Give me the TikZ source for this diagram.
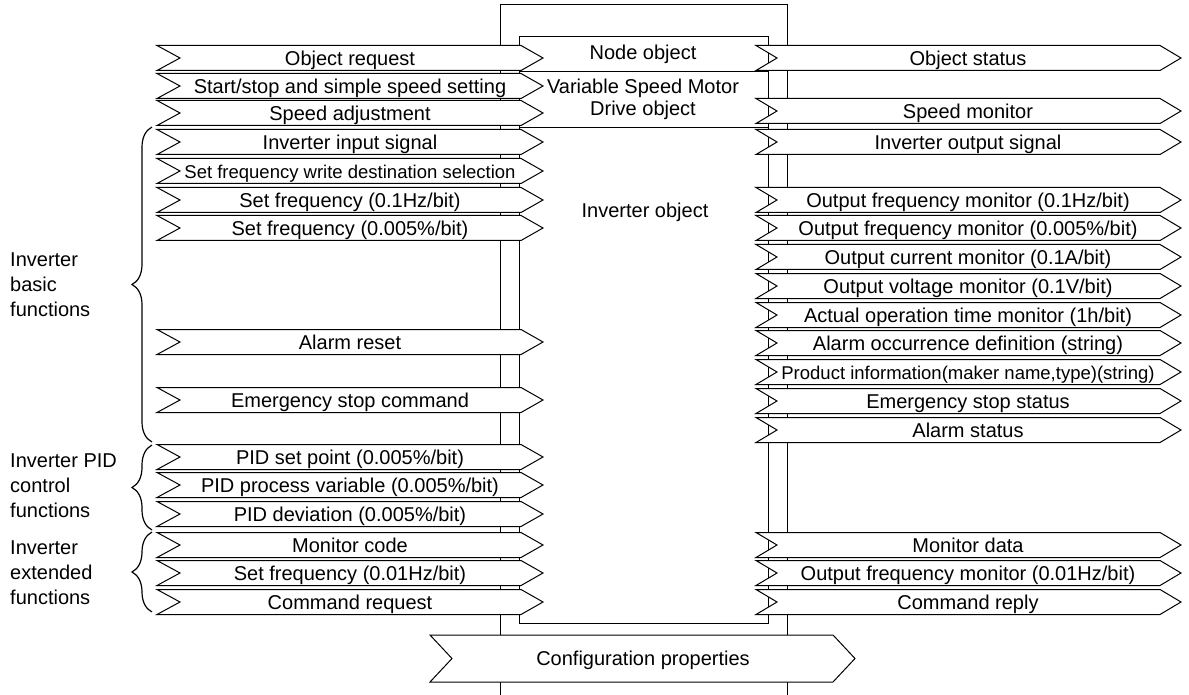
\documentclass[tikz,border=0pt]{standalone}
\usepackage{fontspec}
\setmainfont{Liberation Sans}
\usetikzlibrary{decorations.pathreplacing}
\tikzset{
  sig/.style={draw=black, fill=white, line width=1pt, line join=miter},
  lbl/.style={inner sep=0pt, text height=14.4pt, text depth=0pt, font=\fontsize{20}{24}\selectfont},
  smalltxt/.style={font=\fontsize{18.5}{22}\selectfont},
  grp/.style={inner sep=0pt, align=left, anchor=west, font=\fontsize{20}{25}\selectfont},
  inner/.style={inner sep=0pt, align=center, font=\fontsize{20}{22}\selectfont},
  brc/.style={decorate, decoration={brace, amplitude=20pt}, line width=1.2pt},
  frame/.style={line width=1pt}
}
\newcommand{\LArrow}[4][]{%
  \draw[sig] (157,#3-12.5) -- (521,#3-12.5) -- (543,#3) -- (521,#3+12.5) -- (157,#3+12.5) -- (180,#3) -- cycle;
  \node[lbl,#1] (#2) at (350,#3) {#4};
}
\newcommand{\RArrow}[4][]{%
  \draw[sig] (756,#3-12.5) -- (1160,#3-12.5) -- (1181,#3) -- (1160,#3+12.5) -- (756,#3+12.5) -- (777,#3) -- cycle;
  \node[lbl,#1] (#2) at (968,#3) {#4};
}
\begin{document}
\begin{tikzpicture}[x=1pt,y=-1pt]
\fill[white] (0,0) rectangle (1189,695);
\useasboundingbox (0,0) rectangle (1189,695);
% device frames
\draw[frame] (500,695) -- (500,5) -- (787,5) -- (787,695);
\draw[frame] (519,37) rectangle (768,623);
\draw[frame] (519,72) -- (768,72);
\draw[frame] (519,128) -- (768,128);
\node[inner] (nodeobj) at (643,54) {Node object};
\node[inner] (vsmd) at (643,99) {Variable Speed Motor\\Drive object};
\node[inner] (invobj) at (645,212) {Inverter object};
% left arrows
\LArrow{l1}{58}{Object request}
\LArrow{l2}{86}{Start/stop and simple speed setting}
\LArrow{l3}{113}{Speed adjustment}
\LArrow{l4}{142}{Inverter input signal}
\LArrow[smalltxt]{l5}{171}{Set frequency write destination selection}
\LArrow{l6}{200}{Set frequency (0.1Hz/bit)}
\LArrow{l7}{228}{Set frequency (0.005\%/bit)}
\LArrow{l8}{342}{Alarm reset}
\LArrow{l9}{400}{Emergency stop command}
\LArrow{l10}{457}{PID set point (0.005\%/bit)}
\LArrow{l11}{485}{PID process variable (0.005\%/bit)}
\LArrow{l12}{514}{PID deviation (0.005\%/bit)}
\LArrow{l13}{545}{Monitor code}
\LArrow{l14}{573}{Set frequency (0.01Hz/bit)}
\LArrow{l15}{602}{Command request}
% right arrows
\RArrow{r1}{58}{Object status}
\RArrow{r2}{111}{Speed monitor}
\RArrow{r3}{142}{Inverter output signal}
\RArrow{r4}{200}{Output frequency monitor (0.1Hz/bit)}
\RArrow{r5}{228}{Output frequency monitor (0.005\%/bit)}
\RArrow{r6}{257}{Output current monitor (0.1A/bit)}
\RArrow{r7}{286}{Output voltage monitor (0.1V/bit)}
\RArrow{r8}{315}{Actual operation time monitor (1h/bit)}
\RArrow{r9}{343}{Alarm occurrence definition (string)}
\RArrow[smalltxt]{r10}{372}{Product information(maker name,type)(string)}
\RArrow{r11}{401}{Emergency stop status}
\RArrow{r12}{430}{Alarm status}
\RArrow{r13}{545}{Monitor data}
\RArrow{r14}{573}{Output frequency monitor (0.01Hz/bit)}
\RArrow{r15}{602}{Command reply}
% configuration properties
\draw[sig] (430,635) -- (833,635) -- (855,658.5) -- (833,682) -- (430,682) -- (452,658.5) -- cycle;
\node[lbl] (cfg) at (643,658.5) {Configuration properties};
% braces and group labels
\draw[brc] (152,442) -- (152,127);
\draw[brc] (152,530) -- (152,445);
\draw[brc] (152,612) -- (152,532);
\node[grp] (gbasic) at (10,285) {Inverter\\basic\\functions};
\node[grp] (gpid) at (10,486) {Inverter PID\\control\\functions};
\node[grp] (gext) at (10,573) {Inverter\\extended\\functions};
\end{tikzpicture}
\end{document}
